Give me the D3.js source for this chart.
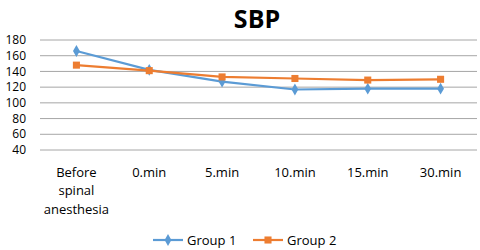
<!DOCTYPE html>
<html>
<head>
<meta charset="utf-8">
<script src="https://cdn.jsdelivr.net/npm/d3@7"></script>
<style>
  body { margin: 0; background: #fff; }
  svg text { font-family: "Open Sans", "Noto Sans", sans-serif; fill: #000; }
</style>
</head>
<body>
<svg id="chart" width="480" height="250"></svg>
<script>
const categories = ["Before spinal anesthesia", "0.min", "5.min", "10.min", "15.min", "30.min"];
const group1 = [166, 142, 127, 117, 118, 118];
const group2 = [148, 141, 133, 131, 129, 130];
const yTicks = [40, 60, 80, 100, 120, 140, 160, 180];

const svg = d3.select("#chart");
const margin = { left: 40, right: 3, top: 40, bottom: 100 };
const w = 480, h = 250;

const x = d3.scaleBand().domain(categories).range([margin.left, w - margin.right]);
const y = d3.scaleLinear().domain([40, 180]).range([150, 40]);

// title
svg.append("text")
  .attr("x", 257).attr("y", 28)
  .attr("text-anchor", "middle")
  .style("font-size", "25px").style("font-weight", "700")
  .text("SBP");

// gridlines
svg.append("g")
  .selectAll("line")
  .data(yTicks)
  .join("line")
  .attr("x1", margin.left).attr("x2", w - margin.right)
  .attr("y1", d => y(d)).attr("y2", d => y(d))
  .attr("stroke", "#a6a6a6").attr("stroke-width", 1);

// y axis labels
svg.append("g")
  .selectAll("text")
  .data(yTicks)
  .join("text")
  .attr("x", 26).attr("y", d => y(d))
  .attr("text-anchor", "end")
  .attr("dy", "0.35em")
  .style("font-size", "12px")
  .text(d => d);

// x axis labels
const xl = svg.append("g")
  .selectAll("text")
  .data(categories)
  .join("text")
  .attr("x", d => x(d) + x.bandwidth() / 2)
  .attr("y", 172)
  .attr("text-anchor", "middle")
  .style("font-size", "13px");
xl.each(function (d) {
  const words = d === "Before spinal anesthesia" ? ["Before", "spinal", "anesthesia"] : [d];
  d3.select(this).selectAll("tspan")
    .data(words)
    .join("tspan")
    .attr("x", x(d) + x.bandwidth() / 2)
    .attr("dy", (t, i) => i === 0 ? "0.35em" : "18.5px")
    .text(t => t);
});

const line = d3.line()
  .x((d, i) => x(categories[i]) + x.bandwidth() / 2)
  .y(d => y(d));

const series = [
  { name: "Group 1", values: group1, color: "#5B9BD5", shape: d3.symbolDiamond, size: 40 },
  { name: "Group 2", values: group2, color: "#ED7D31", shape: d3.symbolSquare, size: 50 }
];

series.forEach(s => {
  svg.append("path")
    .datum(s.values)
    .attr("fill", "none")
    .attr("stroke", s.color)
    .attr("stroke-width", 2.2)
    .attr("d", line);
  svg.append("g")
    .selectAll("path")
    .data(s.values)
    .join("path")
    .attr("transform", (d, i) => `translate(${x(categories[i]) + x.bandwidth() / 2},${y(d)})`)
    .attr("d", d3.symbol().type(s.shape).size(s.size))
    .attr("fill", s.color);
});

// legend
const legendX = [153, 253];
series.forEach((s, i) => {
  const g = svg.append("g").attr("transform", `translate(${legendX[i]},240)`);
  g.append("line").attr("x1", 0).attr("x2", 30).attr("y1", 0).attr("y2", 0)
    .attr("stroke", s.color).attr("stroke-width", 2.2);
  g.append("path").attr("transform", "translate(15,0)")
    .attr("d", d3.symbol().type(s.shape).size(s.size)).attr("fill", s.color);
  g.append("text").attr("x", 34).attr("dy", "0.35em")
    .style("font-size", "13px").text(s.name);
});
</script>
</body>
</html>
